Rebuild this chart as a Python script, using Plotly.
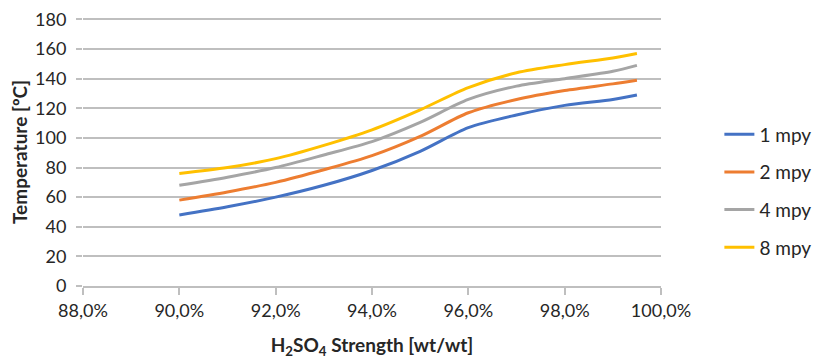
import plotly.graph_objects as go

strength = [90, 91, 92, 93, 94, 95, 96, 97, 98, 99, 99.5]
mpy1 = [48, 53.5, 60, 68, 78, 91, 107, 115.5, 122, 126, 129]
mpy2 = [58, 63.5, 70, 78.5, 88, 101, 117, 126, 132, 136.5, 139]
mpy4 = [68, 73.5, 80, 88.5, 97.5, 110.5, 126, 135, 140, 145, 149]
mpy8 = [76, 80, 86, 95, 105.5, 119, 134, 144, 149.5, 154, 157]

series_names = ["1 mpy", "2 mpy", "4 mpy", "8 mpy"]
colors = ["#4472C4", "#ED7D31", "#A5A5A5", "#FFC000"]

x_tickvals = [88, 90, 92, 94, 96, 98, 100]
x_ticktext = ["88,0%", "90,0%", "92,0%", "94,0%", "96,0%", "98,0%", "100,0%"]
y_tickvals = [0, 20, 40, 60, 80, 100, 120, 140, 160, 180]

FONT = "Lato, 'Open Sans', sans-serif"
TXT = "#262626"

fig = go.Figure()
for i, (name, ys, c) in enumerate(zip(series_names, [mpy1, mpy2, mpy4, mpy8], colors)):
    fig.add_trace(go.Scatter(
        x=strength, y=ys, name=name, mode="lines",
        line=dict(color=c, width=3, shape="spline", smoothing=0.8),
        legendgroup=f"g{i}",
    ))

# page body has an 8px margin: figure sized to fit the 829x364 window
fig.update_layout(
    width=821, height=356,
    margin=dict(l=75, r=168, t=9.5, b=78),
    paper_bgcolor="white", plot_bgcolor="white",
    font=dict(family=FONT, size=18, color=TXT),
    showlegend=True,
    legend=dict(
        x=1.101, y=0.355, xanchor="left", yanchor="middle",
        font=dict(size=19, color=TXT),
        tracegroupgap=10,
        bgcolor="rgba(0,0,0,0)",
    ),
    xaxis=dict(
        range=[88, 100], automargin=False,
        tickvals=x_tickvals, ticktext=x_ticktext,
        showgrid=False, zeroline=False,
        showline=True, linecolor="#bfbfbf", linewidth=1.5,
        ticks="outside", ticklen=7, tickcolor="#bfbfbf", tickwidth=1.5,
        ticklabelstandoff=1, ticklabeloverflow="allow",
        tickfont=dict(size=18, color=TXT),
        title=dict(text="<b>H<sub>2</sub>SO<sub>4</sub> Strength [wt/wt]</b>",
                   font=dict(size=19, color=TXT), standoff=18),
    ),
    yaxis=dict(
        range=[0, 181], automargin=False,
        tickvals=y_tickvals,
        showgrid=True, gridcolor="#bfbfbf", gridwidth=1.5,
        zeroline=False, showline=False,
        ticks="outside", ticklen=6, tickcolor="#bfbfbf", tickwidth=1.5,
        ticklabelstandoff=6, ticklabeloverflow="allow",
        tickfont=dict(size=18, color=TXT),
        title=dict(text="<b>Temperature [ºC]</b>",
                   font=dict(size=19, color=TXT), standoff=10),
    ),
)

fig.write_html("out.html")
